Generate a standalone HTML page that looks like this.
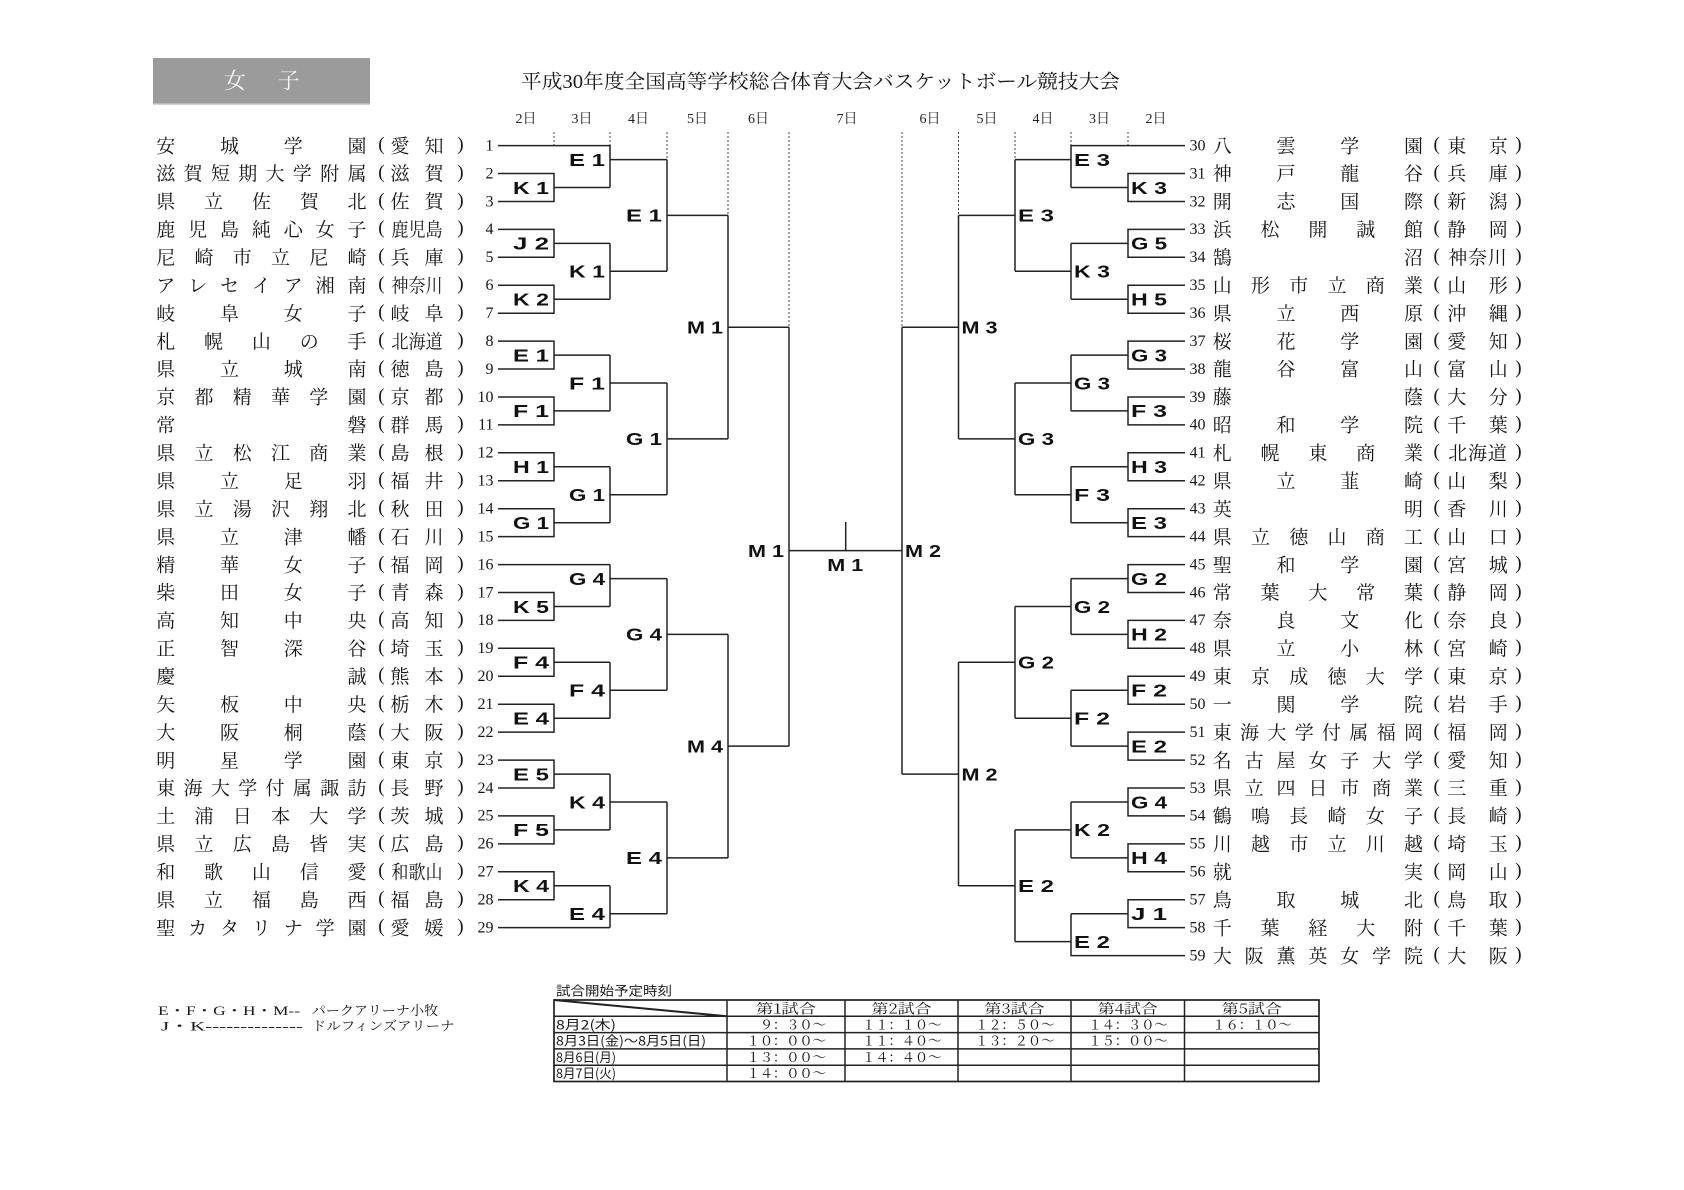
<!DOCTYPE html>
<html lang="ja">
<head>
<meta charset="utf-8">
<title>平成30年度全国高等学校総合体育大会バスケットボール競技大会 女子</title>
<style>
  html,body{margin:0;padding:0;background:#fff;}
  body{width:1684px;height:1190px;overflow:hidden;}
  svg{display:block;}
  .n{font-family:"Noto Serif CJK SC","Noto Sans CJK JP",serif;font-size:19px;fill:#161616;}
  .pa{font-family:"Liberation Serif",serif;font-size:19px;fill:#161616;}
  .nl{font-family:"Liberation Serif",serif;font-size:16px;fill:#161616;text-anchor:end;}
  .nr{font-family:"Liberation Serif",serif;font-size:16px;fill:#161616;}
  .lb{font-family:"Liberation Sans",sans-serif;font-weight:bold;font-size:17.5px;fill:#111;}
  .dy{font-family:"Liberation Serif","Noto Serif CJK SC",serif;font-size:14px;fill:#222;text-anchor:middle;}
  .ttl{font-family:"Liberation Serif","Noto Serif CJK SC",serif;font-size:19.5px;fill:#1a1a1a;}
  .sm{font-family:"Noto Sans CJK JP",sans-serif;font-size:13px;fill:#1a1a1a;}
  .smr{font-family:"Liberation Serif","Noto Serif CJK SC",serif;font-size:13px;fill:#1a1a1a;}
  .tm{font-family:"Noto Serif CJK SC",serif;font-size:13.5px;fill:#1a1a1a;}
</style>
</head>
<body>
<svg width="1684" height="1190" viewBox="0 0 1684 1190" xmlns="http://www.w3.org/2000/svg">
  <rect x="0" y="0" width="1684" height="1190" fill="#fff"/>

  <!-- header box -->
  <rect x="153" y="58" width="217" height="46" fill="#9b9b9b"/>
  <line x1="153" y1="104" x2="370" y2="104" stroke="#c4c4c4" stroke-width="1.5"/>
  <text x="224 277.6" y="88.4" style="font-family:'Noto Serif CJK SC',serif;font-size:22px;fill:#f4f4f4;">女子</text>

  <!-- title -->
  <text class="ttl" x="521" y="87.9" textLength="599" lengthAdjust="spacingAndGlyphs">平成30年度全国高等学校総合体育大会バスケットボール競技大会</text>

  <!-- day headers -->
  <text class="dy" x="526" y="122.8">2日</text>
  <text class="dy" x="582" y="122.8">3日</text>
  <text class="dy" x="638.5" y="122.8">4日</text>
  <text class="dy" x="697.5" y="122.8">5日</text>
  <text class="dy" x="758.5" y="122.8">6日</text>
  <text class="dy" x="847" y="122.8">7日</text>
  <text class="dy" x="930" y="122.8">6日</text>
  <text class="dy" x="987" y="122.8">5日</text>
  <text class="dy" x="1043" y="122.8">4日</text>
  <text class="dy" x="1099.5" y="122.8">3日</text>
  <text class="dy" x="1156" y="122.8">2日</text>

  <!-- dotted column lines -->
  <path d="M554 132V145.6M610 132V145.6M667 132V159.6M728 132V215.4M789 132V327.2M1128 132V145.6M1071 132V145.6M1015 132V159.6M958.5 132V215.4M902 132V327.2" stroke="#444" stroke-width="1" stroke-dasharray="2 2" fill="none"/>

  <!-- bracket lines -->
  <path fill="none" stroke="#222" stroke-width="1.5" d="
M498 564.6H610M498 927.6H610
M498 173.5H554V201.5H498M554 187.5H610
M498 229.4H554V257.3H498M554 243.4H610
M498 285.3H554V313.2H498M554 299.2H610
M498 341.1H554V369H498M554 355.1H610
M498 397H554V424.9H498M554 410.9H610
M498 452.8H554V480.8H498M554 466.8H610
M498 508.7H554V536.6H498M554 522.7H610
M498 592.5H554V620.4H498M554 606.5H610
M498 648.3H554V676.3H498M554 662.3H610
M498 704.2H554V732.1H498M554 718.2H610
M498 760.1H554V788H498M554 774.1H610
M498 815.9H554V843.9H498M554 829.9H610
M498 871.8H554V899.7H498M554 885.8H610
M498 145.6H610V187.5M610 159.6H667
M610 243.4V299.2M610 271.3H667
M610 355.1V410.9M610 383H667
M610 466.8V522.7M610 494.8H667
M610 564.6V606.5M610 578.6H667
M610 662.3V718.2M610 690.3H667
M610 774.1V829.9M610 802H667
M610 885.8V927.6M610 913.7H667
M667 159.6V271.3M667 215.4H728
M667 383V494.8M667 438.9H728
M667 578.6V690.3M667 634.4H728
M667 802V913.7M667 857.9H728
M728 215.4V438.9M728 327.2H789
M728 634.4V857.9M728 746.1H789
M789 327.2V746.1
M789 550.6H902
M902 327.2V774.1
M845.7 522V550.6
M958.5 215.4V438.9M958.5 327.2H902
M958.5 662.3V885.8M958.5 774.1H902
M1015 159.6V271.3M1015 215.4H958.5
M1015 383V494.8M1015 438.9H958.5
M1015 606.5V718.2M1015 662.3H958.5
M1015 829.9V941.6M1015 885.8H958.5
M1185 145.6H1071V187.5M1071 159.6H1015
M1071 243.4V299.2M1071 271.3H1015
M1071 355.1V410.9M1071 383H1015
M1071 466.8V522.7M1071 494.8H1015
M1071 578.6V634.4M1071 606.5H1015
M1071 690.3V746.1M1071 718.2H1015
M1071 802V857.9M1071 829.9H1015
M1071 913.7V955.6H1185M1071 941.6H1015
M1185 173.5H1128V201.5H1185M1128 187.5H1071
M1185 229.4H1128V257.3H1185M1128 243.4H1071
M1185 285.3H1128V313.2H1185M1128 299.2H1071
M1185 341.1H1128V369H1185M1128 355.1H1071
M1185 397H1128V424.9H1185M1128 410.9H1071
M1185 452.8H1128V480.8H1185M1128 466.8H1071
M1185 508.7H1128V536.6H1185M1128 522.7H1071
M1185 564.6H1128V592.5H1185M1128 578.6H1071
M1185 620.4H1128V648.3H1185M1128 634.4H1071
M1185 676.3H1128V704.2H1185M1128 690.3H1071
M1185 732.1H1128V760.1H1185M1128 746.1H1071
M1185 788H1128V815.9H1185M1128 802H1071
M1185 843.9H1128V871.8H1185M1128 857.9H1071
M1185 899.7H1128V927.6H1185M1128 913.7H1071
"/>

  <!-- match labels -->
  <g>
    <text class="lb" x="513" y="193.8" textLength="36" lengthAdjust="spacingAndGlyphs">K 1</text>
    <text class="lb" x="513" y="249.7" textLength="36" lengthAdjust="spacingAndGlyphs">J 2</text>
    <text class="lb" x="513" y="305.5" textLength="36" lengthAdjust="spacingAndGlyphs">K 2</text>
    <text class="lb" x="513" y="361.4" textLength="36" lengthAdjust="spacingAndGlyphs">E 1</text>
    <text class="lb" x="513" y="417.2" textLength="36" lengthAdjust="spacingAndGlyphs">F 1</text>
    <text class="lb" x="513" y="473.1" textLength="36" lengthAdjust="spacingAndGlyphs">H 1</text>
    <text class="lb" x="513" y="529" textLength="36" lengthAdjust="spacingAndGlyphs">G 1</text>
    <text class="lb" x="513" y="612.8" textLength="36" lengthAdjust="spacingAndGlyphs">K 5</text>
    <text class="lb" x="513" y="668.6" textLength="36" lengthAdjust="spacingAndGlyphs">F 4</text>
    <text class="lb" x="513" y="724.5" textLength="36" lengthAdjust="spacingAndGlyphs">E 4</text>
    <text class="lb" x="513" y="780.4" textLength="36" lengthAdjust="spacingAndGlyphs">E 5</text>
    <text class="lb" x="513" y="836.2" textLength="36" lengthAdjust="spacingAndGlyphs">F 5</text>
    <text class="lb" x="513" y="892.1" textLength="36" lengthAdjust="spacingAndGlyphs">K 4</text>

    <text class="lb" x="569" y="165.9" textLength="36" lengthAdjust="spacingAndGlyphs">E 1</text>
    <text class="lb" x="569" y="277.6" textLength="36" lengthAdjust="spacingAndGlyphs">K 1</text>
    <text class="lb" x="569" y="389.3" textLength="36" lengthAdjust="spacingAndGlyphs">F 1</text>
    <text class="lb" x="569" y="501.1" textLength="36" lengthAdjust="spacingAndGlyphs">G 1</text>
    <text class="lb" x="569" y="584.9" textLength="36" lengthAdjust="spacingAndGlyphs">G 4</text>
    <text class="lb" x="569" y="696.6" textLength="36" lengthAdjust="spacingAndGlyphs">F 4</text>
    <text class="lb" x="569" y="808.3" textLength="36" lengthAdjust="spacingAndGlyphs">K 4</text>
    <text class="lb" x="569" y="920" textLength="36" lengthAdjust="spacingAndGlyphs">E 4</text>

    <text class="lb" x="626" y="221.7" textLength="36" lengthAdjust="spacingAndGlyphs">E 1</text>
    <text class="lb" x="626" y="445.2" textLength="36" lengthAdjust="spacingAndGlyphs">G 1</text>
    <text class="lb" x="626" y="640.7" textLength="36" lengthAdjust="spacingAndGlyphs">G 4</text>
    <text class="lb" x="626" y="864.2" textLength="36" lengthAdjust="spacingAndGlyphs">E 4</text>

    <text class="lb" x="687" y="333.5" textLength="36" lengthAdjust="spacingAndGlyphs">M 1</text>
    <text class="lb" x="687" y="752.4" textLength="36" lengthAdjust="spacingAndGlyphs">M 4</text>
    <text class="lb" x="748" y="556.9" textLength="36" lengthAdjust="spacingAndGlyphs">M 1</text>

    <text class="lb" x="827.3" y="570.9" textLength="36" lengthAdjust="spacingAndGlyphs">M 1</text>

    <text class="lb" x="1131" y="193.8" textLength="36" lengthAdjust="spacingAndGlyphs">K 3</text>
    <text class="lb" x="1131" y="249.7" textLength="36" lengthAdjust="spacingAndGlyphs">G 5</text>
    <text class="lb" x="1131" y="305.5" textLength="36" lengthAdjust="spacingAndGlyphs">H 5</text>
    <text class="lb" x="1131" y="361.4" textLength="36" lengthAdjust="spacingAndGlyphs">G 3</text>
    <text class="lb" x="1131" y="417.2" textLength="36" lengthAdjust="spacingAndGlyphs">F 3</text>
    <text class="lb" x="1131" y="473.1" textLength="36" lengthAdjust="spacingAndGlyphs">H 3</text>
    <text class="lb" x="1131" y="529" textLength="36" lengthAdjust="spacingAndGlyphs">E 3</text>
    <text class="lb" x="1131" y="584.9" textLength="36" lengthAdjust="spacingAndGlyphs">G 2</text>
    <text class="lb" x="1131" y="640.7" textLength="36" lengthAdjust="spacingAndGlyphs">H 2</text>
    <text class="lb" x="1131" y="696.6" textLength="36" lengthAdjust="spacingAndGlyphs">F 2</text>
    <text class="lb" x="1131" y="752.4" textLength="36" lengthAdjust="spacingAndGlyphs">E 2</text>
    <text class="lb" x="1131" y="808.3" textLength="36" lengthAdjust="spacingAndGlyphs">G 4</text>
    <text class="lb" x="1131" y="864.2" textLength="36" lengthAdjust="spacingAndGlyphs">H 4</text>
    <text class="lb" x="1131" y="920" textLength="36" lengthAdjust="spacingAndGlyphs">J 1</text>

    <text class="lb" x="1074" y="165.9" textLength="36" lengthAdjust="spacingAndGlyphs">E 3</text>
    <text class="lb" x="1074" y="277.6" textLength="36" lengthAdjust="spacingAndGlyphs">K 3</text>
    <text class="lb" x="1074" y="389.3" textLength="36" lengthAdjust="spacingAndGlyphs">G 3</text>
    <text class="lb" x="1074" y="501.1" textLength="36" lengthAdjust="spacingAndGlyphs">F 3</text>
    <text class="lb" x="1074" y="612.8" textLength="36" lengthAdjust="spacingAndGlyphs">G 2</text>
    <text class="lb" x="1074" y="724.5" textLength="36" lengthAdjust="spacingAndGlyphs">F 2</text>
    <text class="lb" x="1074" y="836.2" textLength="36" lengthAdjust="spacingAndGlyphs">K 2</text>
    <text class="lb" x="1074" y="947.9" textLength="36" lengthAdjust="spacingAndGlyphs">E 2</text>

    <text class="lb" x="1018" y="221.7" textLength="36" lengthAdjust="spacingAndGlyphs">E 3</text>
    <text class="lb" x="1018" y="445.2" textLength="36" lengthAdjust="spacingAndGlyphs">G 3</text>
    <text class="lb" x="1018" y="668.6" textLength="36" lengthAdjust="spacingAndGlyphs">G 2</text>
    <text class="lb" x="1018" y="892.1" textLength="36" lengthAdjust="spacingAndGlyphs">E 2</text>

    <text class="lb" x="961.5" y="333.5" textLength="36" lengthAdjust="spacingAndGlyphs">M 3</text>
    <text class="lb" x="961.5" y="780.4" textLength="36" lengthAdjust="spacingAndGlyphs">M 2</text>
    <text class="lb" x="905" y="556.9" textLength="36" lengthAdjust="spacingAndGlyphs">M 2</text>
  </g>

  <!-- LEFT TEAMS -->
  <g transform="translate(0,145.6)"><text class="n" x="156.2 220 283.7 347.5" y="6.7">安城学園</text><text class="n" x="390.5 424.5" y="6.7">愛知</text><text class="pa" x="378.3 457.3" y="4.3">()</text><text class="nl" x="493.5" y="4.8">1</text></g>
  <g transform="translate(0,173.5)"><text class="n" x="156.2 183.5 210.9 238.2 265.5 292.8 320.2 347.5" y="6.7">滋賀短期大学附属</text><text class="n" x="390.5 424.5" y="6.7">滋賀</text><text class="pa" x="378.3 457.3" y="4.3">()</text><text class="nl" x="493.5" y="4.8">2</text></g>
  <g transform="translate(0,201.5)"><text class="n" x="156.2 204 251.9 299.7 347.5" y="6.7">県立佐賀北</text><text class="n" x="390.5 424.5" y="6.7">佐賀</text><text class="pa" x="378.3 457.3" y="4.3">()</text><text class="nl" x="493.5" y="4.8">3</text></g>
  <g transform="translate(0,229.4)"><text class="n" x="156.2 188.1 220 251.9 283.7 315.6 347.5" y="6.7">鹿児島純心女子</text><text class="n" transform="translate(417 6.7) scale(0.9 1)" x="-28.5 -9.5 9.5" y="0">鹿児島</text><text class="pa" x="378.3 457.3" y="4.3">()</text><text class="nl" x="493.5" y="4.8">4</text></g>
  <g transform="translate(0,257.3)"><text class="n" x="156.2 194.5 232.7 271 309.2 347.5" y="6.7">尼崎市立尼崎</text><text class="n" x="390.5 424.5" y="6.7">兵庫</text><text class="pa" x="378.3 457.3" y="4.3">()</text><text class="nl" x="493.5" y="4.8">5</text></g>
  <g transform="translate(0,285.3)"><text class="n" x="156.2 188.1 220 251.9 283.7 315.6 347.5" y="6.7">アレセイア湘南</text><text class="n" transform="translate(417 6.7) scale(0.9 1)" x="-28.5 -9.5 9.5" y="0">神奈川</text><text class="pa" x="378.3 457.3" y="4.3">()</text><text class="nl" x="493.5" y="4.8">6</text></g>
  <g transform="translate(0,313.2)"><text class="n" x="156.2 220 283.7 347.5" y="6.7">岐阜女子</text><text class="n" x="390.5 424.5" y="6.7">岐阜</text><text class="pa" x="378.3 457.3" y="4.3">()</text><text class="nl" x="493.5" y="4.8">7</text></g>
  <g transform="translate(0,341.1)"><text class="n" x="156.2 204 251.9 299.7 347.5" y="6.7">札幌山の手</text><text class="n" transform="translate(417 6.7) scale(0.9 1)" x="-28.5 -9.5 9.5" y="0">北海道</text><text class="pa" x="378.3 457.3" y="4.3">()</text><text class="nl" x="493.5" y="4.8">8</text></g>
  <g transform="translate(0,369)"><text class="n" x="156.2 220 283.7 347.5" y="6.7">県立城南</text><text class="n" x="390.5 424.5" y="6.7">徳島</text><text class="pa" x="378.3 457.3" y="4.3">()</text><text class="nl" x="493.5" y="4.8">9</text></g>
  <g transform="translate(0,397)"><text class="n" x="156.2 194.5 232.7 271 309.2 347.5" y="6.7">京都精華学園</text><text class="n" x="390.5 424.5" y="6.7">京都</text><text class="pa" x="378.3 457.3" y="4.3">()</text><text class="nl" x="493.5" y="4.8">10</text></g>
  <g transform="translate(0,424.9)"><text class="n" x="156.2 347.5" y="6.7">常磐</text><text class="n" x="390.5 424.5" y="6.7">群馬</text><text class="pa" x="378.3 457.3" y="4.3">()</text><text class="nl" x="493.5" y="4.8">11</text></g>
  <g transform="translate(0,452.8)"><text class="n" x="156.2 194.5 232.7 271 309.2 347.5" y="6.7">県立松江商業</text><text class="n" x="390.5 424.5" y="6.7">島根</text><text class="pa" x="378.3 457.3" y="4.3">()</text><text class="nl" x="493.5" y="4.8">12</text></g>
  <g transform="translate(0,480.8)"><text class="n" x="156.2 220 283.7 347.5" y="6.7">県立足羽</text><text class="n" x="390.5 424.5" y="6.7">福井</text><text class="pa" x="378.3 457.3" y="4.3">()</text><text class="nl" x="493.5" y="4.8">13</text></g>
  <g transform="translate(0,508.7)"><text class="n" x="156.2 194.5 232.7 271 309.2 347.5" y="6.7">県立湯沢翔北</text><text class="n" x="390.5 424.5" y="6.7">秋田</text><text class="pa" x="378.3 457.3" y="4.3">()</text><text class="nl" x="493.5" y="4.8">14</text></g>
  <g transform="translate(0,536.6)"><text class="n" x="156.2 220 283.7 347.5" y="6.7">県立津幡</text><text class="n" x="390.5 424.5" y="6.7">石川</text><text class="pa" x="378.3 457.3" y="4.3">()</text><text class="nl" x="493.5" y="4.8">15</text></g>
  <g transform="translate(0,564.6)"><text class="n" x="156.2 220 283.7 347.5" y="6.7">精華女子</text><text class="n" x="390.5 424.5" y="6.7">福岡</text><text class="pa" x="378.3 457.3" y="4.3">()</text><text class="nl" x="493.5" y="4.8">16</text></g>
  <g transform="translate(0,592.5)"><text class="n" x="156.2 220 283.7 347.5" y="6.7">柴田女子</text><text class="n" x="390.5 424.5" y="6.7">青森</text><text class="pa" x="378.3 457.3" y="4.3">()</text><text class="nl" x="493.5" y="4.8">17</text></g>
  <g transform="translate(0,620.4)"><text class="n" x="156.2 220 283.7 347.5" y="6.7">高知中央</text><text class="n" x="390.5 424.5" y="6.7">高知</text><text class="pa" x="378.3 457.3" y="4.3">()</text><text class="nl" x="493.5" y="4.8">18</text></g>
  <g transform="translate(0,648.3)"><text class="n" x="156.2 220 283.7 347.5" y="6.7">正智深谷</text><text class="n" x="390.5 424.5" y="6.7">埼玉</text><text class="pa" x="378.3 457.3" y="4.3">()</text><text class="nl" x="493.5" y="4.8">19</text></g>
  <g transform="translate(0,676.3)"><text class="n" x="156.2 347.5" y="6.7">慶誠</text><text class="n" x="390.5 424.5" y="6.7">熊本</text><text class="pa" x="378.3 457.3" y="4.3">()</text><text class="nl" x="493.5" y="4.8">20</text></g>
  <g transform="translate(0,704.2)"><text class="n" x="156.2 220 283.7 347.5" y="6.7">矢板中央</text><text class="n" x="390.5 424.5" y="6.7">栃木</text><text class="pa" x="378.3 457.3" y="4.3">()</text><text class="nl" x="493.5" y="4.8">21</text></g>
  <g transform="translate(0,732.1)"><text class="n" x="156.2 220 283.7 347.5" y="6.7">大阪桐蔭</text><text class="n" x="390.5 424.5" y="6.7">大阪</text><text class="pa" x="378.3 457.3" y="4.3">()</text><text class="nl" x="493.5" y="4.8">22</text></g>
  <g transform="translate(0,760.1)"><text class="n" x="156.2 220 283.7 347.5" y="6.7">明星学園</text><text class="n" x="390.5 424.5" y="6.7">東京</text><text class="pa" x="378.3 457.3" y="4.3">()</text><text class="nl" x="493.5" y="4.8">23</text></g>
  <g transform="translate(0,788)"><text class="n" x="156.2 183.5 210.9 238.2 265.5 292.8 320.2 347.5" y="6.7">東海大学付属諏訪</text><text class="n" x="390.5 424.5" y="6.7">長野</text><text class="pa" x="378.3 457.3" y="4.3">()</text><text class="nl" x="493.5" y="4.8">24</text></g>
  <g transform="translate(0,815.9)"><text class="n" x="156.2 194.5 232.7 271 309.2 347.5" y="6.7">土浦日本大学</text><text class="n" x="390.5 424.5" y="6.7">茨城</text><text class="pa" x="378.3 457.3" y="4.3">()</text><text class="nl" x="493.5" y="4.8">25</text></g>
  <g transform="translate(0,843.9)"><text class="n" x="156.2 194.5 232.7 271 309.2 347.5" y="6.7">県立広島皆実</text><text class="n" x="390.5 424.5" y="6.7">広島</text><text class="pa" x="378.3 457.3" y="4.3">()</text><text class="nl" x="493.5" y="4.8">26</text></g>
  <g transform="translate(0,871.8)"><text class="n" x="156.2 204 251.9 299.7 347.5" y="6.7">和歌山信愛</text><text class="n" transform="translate(417 6.7) scale(0.9 1)" x="-28.5 -9.5 9.5" y="0">和歌山</text><text class="pa" x="378.3 457.3" y="4.3">()</text><text class="nl" x="493.5" y="4.8">27</text></g>
  <g transform="translate(0,899.7)"><text class="n" x="156.2 204 251.9 299.7 347.5" y="6.7">県立福島西</text><text class="n" x="390.5 424.5" y="6.7">福島</text><text class="pa" x="378.3 457.3" y="4.3">()</text><text class="nl" x="493.5" y="4.8">28</text></g>
  <g transform="translate(0,927.6)"><text class="n" x="156.2 188.1 220 251.9 283.7 315.6 347.5" y="6.7">聖カタリナ学園</text><text class="n" x="390.5 424.5" y="6.7">愛媛</text><text class="pa" x="378.3 457.3" y="4.3">()</text><text class="nl" x="493.5" y="4.8">29</text></g>

  <!-- RIGHT TEAMS -->
  <g transform="translate(0,145.6)"><text class="nr" x="1189.5" y="4.8">30</text><text class="n" x="1212.7 1276.5 1340.2 1404" y="6.7">八雲学園</text><text class="pa" x="1433.5 1515.3" y="4.3">()</text><text class="n" x="1447.2 1488.8" y="6.7">東京</text></g>
  <g transform="translate(0,173.5)"><text class="nr" x="1189.5" y="4.8">31</text><text class="n" x="1212.7 1276.5 1340.2 1404" y="6.7">神戸龍谷</text><text class="pa" x="1433.5 1515.3" y="4.3">()</text><text class="n" x="1447.2 1488.8" y="6.7">兵庫</text></g>
  <g transform="translate(0,201.5)"><text class="nr" x="1189.5" y="4.8">32</text><text class="n" x="1212.7 1276.5 1340.2 1404" y="6.7">開志国際</text><text class="pa" x="1433.5 1515.3" y="4.3">()</text><text class="n" x="1447.2 1488.8" y="6.7">新潟</text></g>
  <g transform="translate(0,229.4)"><text class="nr" x="1189.5" y="4.8">33</text><text class="n" x="1212.7 1260.5 1308.4 1356.2 1404" y="6.7">浜松開誠館</text><text class="pa" x="1433.5 1515.3" y="4.3">()</text><text class="n" x="1447.2 1488.8" y="6.7">静岡</text></g>
  <g transform="translate(0,257.3)"><text class="nr" x="1189.5" y="4.8">34</text><text class="n" x="1212.7 1404" y="6.7">鵠沼</text><text class="pa" x="1433.5 1515.3" y="4.3">()</text><text class="n" x="1448.3 1468 1487.7" y="6.7">神奈川</text></g>
  <g transform="translate(0,285.3)"><text class="nr" x="1189.5" y="4.8">35</text><text class="n" x="1212.7 1251 1289.2 1327.5 1365.7 1404" y="6.7">山形市立商業</text><text class="pa" x="1433.5 1515.3" y="4.3">()</text><text class="n" x="1447.2 1488.8" y="6.7">山形</text></g>
  <g transform="translate(0,313.2)"><text class="nr" x="1189.5" y="4.8">36</text><text class="n" x="1212.7 1276.5 1340.2 1404" y="6.7">県立西原</text><text class="pa" x="1433.5 1515.3" y="4.3">()</text><text class="n" x="1447.2 1488.8" y="6.7">沖縄</text></g>
  <g transform="translate(0,341.1)"><text class="nr" x="1189.5" y="4.8">37</text><text class="n" x="1212.7 1276.5 1340.2 1404" y="6.7">桜花学園</text><text class="pa" x="1433.5 1515.3" y="4.3">()</text><text class="n" x="1447.2 1488.8" y="6.7">愛知</text></g>
  <g transform="translate(0,369)"><text class="nr" x="1189.5" y="4.8">38</text><text class="n" x="1212.7 1276.5 1340.2 1404" y="6.7">龍谷富山</text><text class="pa" x="1433.5 1515.3" y="4.3">()</text><text class="n" x="1447.2 1488.8" y="6.7">富山</text></g>
  <g transform="translate(0,397)"><text class="nr" x="1189.5" y="4.8">39</text><text class="n" x="1212.7 1404" y="6.7">藤蔭</text><text class="pa" x="1433.5 1515.3" y="4.3">()</text><text class="n" x="1447.2 1488.8" y="6.7">大分</text></g>
  <g transform="translate(0,424.9)"><text class="nr" x="1189.5" y="4.8">40</text><text class="n" x="1212.7 1276.5 1340.2 1404" y="6.7">昭和学院</text><text class="pa" x="1433.5 1515.3" y="4.3">()</text><text class="n" x="1447.2 1488.8" y="6.7">千葉</text></g>
  <g transform="translate(0,452.8)"><text class="nr" x="1189.5" y="4.8">41</text><text class="n" x="1212.7 1260.5 1308.4 1356.2 1404" y="6.7">札幌東商業</text><text class="pa" x="1433.5 1515.3" y="4.3">()</text><text class="n" x="1448.3 1468 1487.7" y="6.7">北海道</text></g>
  <g transform="translate(0,480.8)"><text class="nr" x="1189.5" y="4.8">42</text><text class="n" x="1212.7 1276.5 1340.2 1404" y="6.7">県立韮崎</text><text class="pa" x="1433.5 1515.3" y="4.3">()</text><text class="n" x="1447.2 1488.8" y="6.7">山梨</text></g>
  <g transform="translate(0,508.7)"><text class="nr" x="1189.5" y="4.8">43</text><text class="n" x="1212.7 1404" y="6.7">英明</text><text class="pa" x="1433.5 1515.3" y="4.3">()</text><text class="n" x="1447.2 1488.8" y="6.7">香川</text></g>
  <g transform="translate(0,536.6)"><text class="nr" x="1189.5" y="4.8">44</text><text class="n" x="1212.7 1251 1289.2 1327.5 1365.7 1404" y="6.7">県立徳山商工</text><text class="pa" x="1433.5 1515.3" y="4.3">()</text><text class="n" x="1447.2 1488.8" y="6.7">山口</text></g>
  <g transform="translate(0,564.6)"><text class="nr" x="1189.5" y="4.8">45</text><text class="n" x="1212.7 1276.5 1340.2 1404" y="6.7">聖和学園</text><text class="pa" x="1433.5 1515.3" y="4.3">()</text><text class="n" x="1447.2 1488.8" y="6.7">宮城</text></g>
  <g transform="translate(0,592.5)"><text class="nr" x="1189.5" y="4.8">46</text><text class="n" x="1212.7 1260.5 1308.4 1356.2 1404" y="6.7">常葉大常葉</text><text class="pa" x="1433.5 1515.3" y="4.3">()</text><text class="n" x="1447.2 1488.8" y="6.7">静岡</text></g>
  <g transform="translate(0,620.4)"><text class="nr" x="1189.5" y="4.8">47</text><text class="n" x="1212.7 1276.5 1340.2 1404" y="6.7">奈良文化</text><text class="pa" x="1433.5 1515.3" y="4.3">()</text><text class="n" x="1447.2 1488.8" y="6.7">奈良</text></g>
  <g transform="translate(0,648.3)"><text class="nr" x="1189.5" y="4.8">48</text><text class="n" x="1212.7 1276.5 1340.2 1404" y="6.7">県立小林</text><text class="pa" x="1433.5 1515.3" y="4.3">()</text><text class="n" x="1447.2 1488.8" y="6.7">宮崎</text></g>
  <g transform="translate(0,676.3)"><text class="nr" x="1189.5" y="4.8">49</text><text class="n" x="1212.7 1251 1289.2 1327.5 1365.7 1404" y="6.7">東京成徳大学</text><text class="pa" x="1433.5 1515.3" y="4.3">()</text><text class="n" x="1447.2 1488.8" y="6.7">東京</text></g>
  <g transform="translate(0,704.2)"><text class="nr" x="1189.5" y="4.8">50</text><text class="n" x="1212.7 1276.5 1340.2 1404" y="6.7">一関学院</text><text class="pa" x="1433.5 1515.3" y="4.3">()</text><text class="n" x="1447.2 1488.8" y="6.7">岩手</text></g>
  <g transform="translate(0,732.1)"><text class="nr" x="1189.5" y="4.8">51</text><text class="n" x="1212.7 1240 1267.4 1294.7 1322 1349.3 1376.7 1404" y="6.7">東海大学付属福岡</text><text class="pa" x="1433.5 1515.3" y="4.3">()</text><text class="n" x="1447.2 1488.8" y="6.7">福岡</text></g>
  <g transform="translate(0,760.1)"><text class="nr" x="1189.5" y="4.8">52</text><text class="n" x="1212.7 1244.6 1276.5 1308.4 1340.2 1372.1 1404" y="6.7">名古屋女子大学</text><text class="pa" x="1433.5 1515.3" y="4.3">()</text><text class="n" x="1447.2 1488.8" y="6.7">愛知</text></g>
  <g transform="translate(0,788)"><text class="nr" x="1189.5" y="4.8">53</text><text class="n" x="1212.7 1244.6 1276.5 1308.4 1340.2 1372.1 1404" y="6.7">県立四日市商業</text><text class="pa" x="1433.5 1515.3" y="4.3">()</text><text class="n" x="1447.2 1488.8" y="6.7">三重</text></g>
  <g transform="translate(0,815.9)"><text class="nr" x="1189.5" y="4.8">54</text><text class="n" x="1212.7 1251 1289.2 1327.5 1365.7 1404" y="6.7">鶴鳴長崎女子</text><text class="pa" x="1433.5 1515.3" y="4.3">()</text><text class="n" x="1447.2 1488.8" y="6.7">長崎</text></g>
  <g transform="translate(0,843.9)"><text class="nr" x="1189.5" y="4.8">55</text><text class="n" x="1212.7 1251 1289.2 1327.5 1365.7 1404" y="6.7">川越市立川越</text><text class="pa" x="1433.5 1515.3" y="4.3">()</text><text class="n" x="1447.2 1488.8" y="6.7">埼玉</text></g>
  <g transform="translate(0,871.8)"><text class="nr" x="1189.5" y="4.8">56</text><text class="n" x="1212.7 1404" y="6.7">就実</text><text class="pa" x="1433.5 1515.3" y="4.3">()</text><text class="n" x="1447.2 1488.8" y="6.7">岡山</text></g>
  <g transform="translate(0,899.7)"><text class="nr" x="1189.5" y="4.8">57</text><text class="n" x="1212.7 1276.5 1340.2 1404" y="6.7">鳥取城北</text><text class="pa" x="1433.5 1515.3" y="4.3">()</text><text class="n" x="1447.2 1488.8" y="6.7">鳥取</text></g>
  <g transform="translate(0,927.6)"><text class="nr" x="1189.5" y="4.8">58</text><text class="n" x="1212.7 1260.5 1308.4 1356.2 1404" y="6.7">千葉経大附</text><text class="pa" x="1433.5 1515.3" y="4.3">()</text><text class="n" x="1447.2 1488.8" y="6.7">千葉</text></g>
  <g transform="translate(0,955.6)"><text class="nr" x="1189.5" y="4.8">59</text><text class="n" x="1212.7 1244.6 1276.5 1308.4 1340.2 1372.1 1404" y="6.7">大阪薫英女学院</text><text class="pa" x="1433.5 1515.3" y="4.3">()</text><text class="n" x="1447.2 1488.8" y="6.7">大阪</text></g>

  <!-- legend -->
  <text class="smr" x="158" y="1014.9" textLength="142" lengthAdjust="spacingAndGlyphs">E・F・G・H・M--</text>
  <text class="smr" x="311.7" y="1014.9" textLength="126.5" lengthAdjust="spacingAndGlyphs">パークアリーナ小牧</text>
  <text class="smr" x="161" y="1030.4" textLength="142" lengthAdjust="spacingAndGlyphs">J・K--------------</text>
  <text class="smr" x="311.7" y="1030.4" textLength="143" lengthAdjust="spacingAndGlyphs">ドルフィンズアリーナ</text>

  <!-- schedule table -->
  <text class="sm" x="556" y="995.6" textLength="116" lengthAdjust="spacingAndGlyphs">試合開始予定時刻</text>
  <g fill="none" stroke="#222" stroke-width="1.5">
    <rect x="554" y="1000" width="765" height="81.5" stroke-width="1.7"/>
    <path d="M554 1016.3H1319M554 1032.6H1319M554 1048.9H1319M554 1065.2H1319M727 1000V1081.5M845 1000V1081.5M958 1000V1081.5M1071 1000V1081.5M1184.5 1000V1081.5"/>
    <path d="M554 1000L727 1016.3" stroke-width="2"/>
  </g>
  <text class="tm" x="756" y="1013.3" textLength="60" lengthAdjust="spacingAndGlyphs">第1試合</text>
  <text class="tm" x="871.5" y="1013.3" textLength="60" lengthAdjust="spacingAndGlyphs">第2試合</text>
  <text class="tm" x="984.5" y="1013.3" textLength="60" lengthAdjust="spacingAndGlyphs">第3試合</text>
  <text class="tm" x="1097.75" y="1013.3" textLength="60" lengthAdjust="spacingAndGlyphs">第4試合</text>
  <text class="tm" x="1221.75" y="1013.3" textLength="60" lengthAdjust="spacingAndGlyphs">第5試合</text>

  <text class="sm" x="556" y="1029.4" textLength="60" lengthAdjust="spacingAndGlyphs">8月2(木)</text>
  <text class="sm" x="556" y="1045.7" textLength="150" lengthAdjust="spacingAndGlyphs">8月3日(金)～8月5日(日)</text>
  <text class="sm" x="556" y="1062" textLength="60" lengthAdjust="spacingAndGlyphs">8月6日(月)</text>
  <text class="sm" x="556" y="1078.2" textLength="60" lengthAdjust="spacingAndGlyphs">8月7日(火)</text>

  <!-- times row 1 -->
  <text class="tm" x="759.7 772.9 786.1 799.3 812.5" y="1029.4">９：３０～</text>
  <text class="tm" x="862 875.2 888.4 901.6 914.8 928" y="1029.4">１１：１０～</text>
  <text class="tm" x="975 988.2 1001.4 1014.6 1027.8 1041" y="1029.4">１２：５０～</text>
  <text class="tm" x="1088.3 1101.5 1114.7 1127.9 1141.1 1154.3" y="1029.4">１４：３０～</text>
  <text class="tm" x="1212.3 1225.5 1238.7 1251.9 1265.1 1278.3" y="1029.4">１６：１０～</text>
  <!-- row 2 -->
  <text class="tm" x="746.5 759.7 772.9 786.1 799.3 812.5" y="1045.7">１０：００～</text>
  <text class="tm" x="862 875.2 888.4 901.6 914.8 928" y="1045.7">１１：４０～</text>
  <text class="tm" x="975 988.2 1001.4 1014.6 1027.8 1041" y="1045.7">１３：２０～</text>
  <text class="tm" x="1088.3 1101.5 1114.7 1127.9 1141.1 1154.3" y="1045.7">１５：００～</text>
  <!-- row 3 -->
  <text class="tm" x="746.5 759.7 772.9 786.1 799.3 812.5" y="1062">１３：００～</text>
  <text class="tm" x="862 875.2 888.4 901.6 914.8 928" y="1062">１４：４０～</text>
  <!-- row 4 -->
  <text class="tm" x="746.5 759.7 772.9 786.1 799.3 812.5" y="1078.2">１４：００～</text>
</svg>
</body>
</html>
